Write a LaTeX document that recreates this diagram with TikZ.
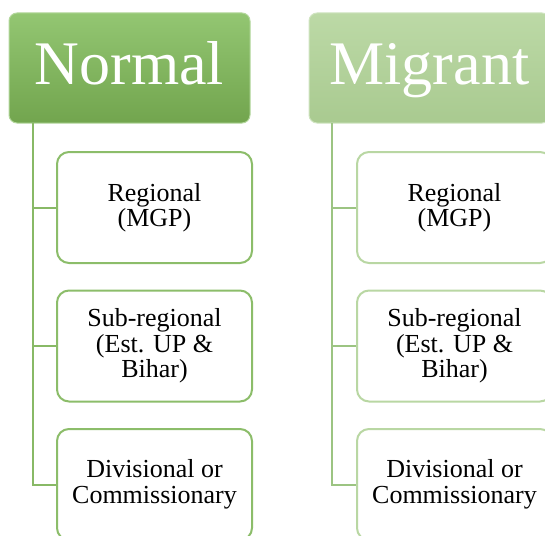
\documentclass[tikz,border=0pt]{standalone}
\usepackage{fontspec}
\setmainfont{Liberation Serif}
\definecolor{normtop}{HTML}{93C672}
\definecolor{normbot}{HTML}{72A54E}
\definecolor{migtop}{HTML}{BCD9A6}
\definecolor{migbot}{HTML}{A9CA90}
\definecolor{normedge}{HTML}{8CBD6A}
\definecolor{migedge}{HTML}{B9D7A3}
\definecolor{normwire}{HTML}{88B966}
\definecolor{migwire}{HTML}{9CC482}
\begin{document}
\begin{tikzpicture}[x=1pt,y=-1pt,
    head/.style={rectangle,rounded corners=8pt,minimum width=241pt,minimum height=110pt,
      text=white,font=\fontsize{62}{62}\selectfont,inner sep=0pt,text height=45pt,text depth=13pt},
    normhead/.style={head,draw=normtop!70!white,line width=1pt,top color=normtop,bottom color=normbot},
    mighead/.style={head,draw=migtop!70!white,line width=1pt,top color=migtop,bottom color=migbot},
    child/.style={rectangle,rounded corners=12pt,fill=white,line width=2pt,minimum width=195pt,
      minimum height=111pt,align=center,font=\fontsize{26}{25.5}\selectfont,inner sep=0pt},
    normchild/.style={child,draw=normedge},
    migchild/.style={child,draw=migedge},
    normline/.style={draw=normwire,line width=2pt},
    migline/.style={draw=migwire,line width=2pt}]
    \useasboundingbox (0,0) rectangle (545,535);
    \clip (0,0) rectangle (545,535);
    % left column
    \node[normhead] (nh) at (129.5,68) {Normal};
    \coordinate (nt) at (33,123);
    \node[normchild] (n1) at (154.5,207.5) {Regional\\(MGP)};
    \node[normchild] (n2) at (154.5,346) {Sub-regional\\(Est. UP \&\\Bihar)};
    \node[normchild] (n3) at (154.5,484.5) {Divisional or\\Commissionary};
    \draw[normline] (nt) |- (n3.west);
    \draw[normline] (nt |- n1.west) -- (n1.west);
    \draw[normline] (nt |- n2.west) -- (n2.west);
    % right column
    \node[mighead] (mh) at (429.5,68) {Migrant};
    \coordinate (mt) at (332,123);
    \node[migchild] (m1) at (454.5,207.5) {Regional\\(MGP)};
    \node[migchild] (m2) at (454.5,346) {Sub-regional\\(Est. UP \&\\Bihar)};
    \node[migchild] (m3) at (454.5,484.5) {Divisional or\\Commissionary};
    \draw[migline] (mt) |- (m3.west);
    \draw[migline] (mt |- m1.west) -- (m1.west);
    \draw[migline] (mt |- m2.west) -- (m2.west);
\end{tikzpicture}
\end{document}
